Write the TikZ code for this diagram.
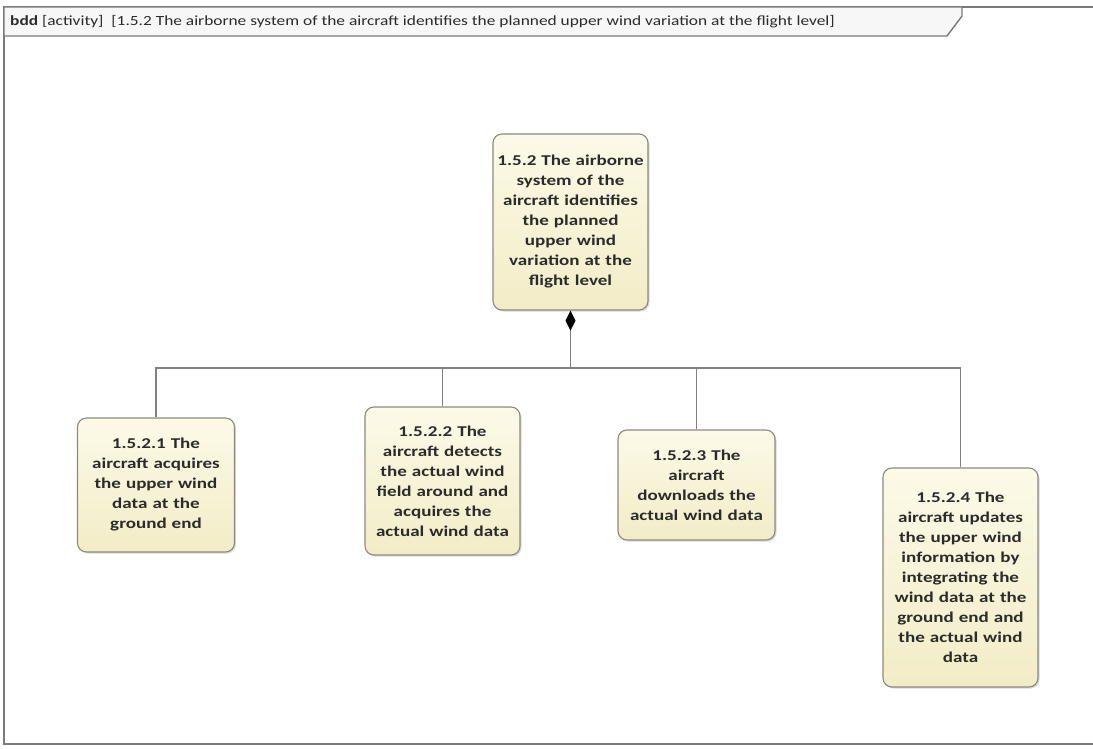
\documentclass[tikz,border=0pt]{standalone}
\usepackage{fontspec}
\setmainfont{Carlito}
\newfontfamily\boxfont[FakeStretch=1.27]{Carlito}
\newfontfamily\tabfont[FakeStretch=1.24]{Carlito}
\usetikzlibrary{arrows.meta,shadows}
\definecolor{framegray}{HTML}{7A7A7A}
\definecolor{linegray}{HTML}{808080}
\definecolor{boxedge}{HTML}{8C8A7E}
\definecolor{boxtop}{HTML}{FCFAE8}
\definecolor{boxbot}{HTML}{F2ECC6}
\definecolor{tabfill}{HTML}{F7F7F7}
\definecolor{txt}{HTML}{2B2B2B}
\tikzset{
  block/.style={draw=boxedge, line width=1.1pt, rounded corners=9pt,
    top color=boxtop, bottom color=boxbot, align=center,
    text width=154pt, inner sep=0pt, text=txt,
    font=\boxfont\fontsize{15}{20}\selectfont\bfseries,
    drop shadow={shadow xshift=1.5pt, shadow yshift=-1.5pt, opacity=0.3, fill=gray}},
  link/.style={draw=linegray, line width=1.1pt},
  compose/.style={link, {Diamond[length=20pt,width=10pt,fill=black,color=black]}-},
  framedge/.style={draw=framegray, line width=1.4pt}
}
\begin{document}
\begin{tikzpicture}[x=1pt,y=-1pt]
\useasboundingbox (0,0) rectangle (1093,749);
% diagram frame and its name tab
\draw[framedge] (1093,7) -- (4,7) -- (4,744) -- (1093,744);
\draw[framedge, fill=tabfill] (4,7) -- (962,7) -- (962,16) -- (947,36) -- (4,36) -- cycle;
\node[anchor=west, text=txt, font=\tabfont\fontsize{14}{16}\selectfont, inner sep=0pt] (title) at (10,22)
  {\textbf{bdd} [activity]\ \ [1.5.2 The airborne system of the aircraft identifies the planned upper wind variation at the flight level]};

% blocks
\node[block, minimum width=155pt, minimum height=176pt] (top) at (570.5,222)
  {1.5.2 The airborne\\system of the\\aircraft identifies\\the planned\\upper wind\\variation at the\\flight level};
\node[block, minimum width=157pt, minimum height=134pt] (c1) at (156,485)
  {1.5.2.1 The\\aircraft acquires\\the upper wind\\data at the\\ground end};
\node[block, minimum width=155pt, minimum height=148pt] (c2) at (442.5,481)
  {1.5.2.2 The\\aircraft detects\\the actual wind\\field around and\\acquires the\\actual wind data};
\node[block, minimum width=157pt, minimum height=110pt] (c3) at (696.5,485)
  {1.5.2.3 The\\aircraft\\downloads the\\actual wind data};
\node[block, minimum width=155pt, minimum height=219pt] (c4) at (960.5,577.5)
  {1.5.2.4 The\\aircraft updates\\the upper wind\\information by\\integrating the\\wind data at the\\ground end and\\the actual wind\\data};

% composition tree
\coordinate (bus) at (570.5,368);
\draw[compose] (top.south) -- (bus);
\draw[link] (bus) -| (c1.north);
\draw[link] (bus) -| (c2.north);
\draw[link] (bus) -| (c3.north);
\draw[link] (bus) -| (c4.north);
\end{tikzpicture}
\end{document}
